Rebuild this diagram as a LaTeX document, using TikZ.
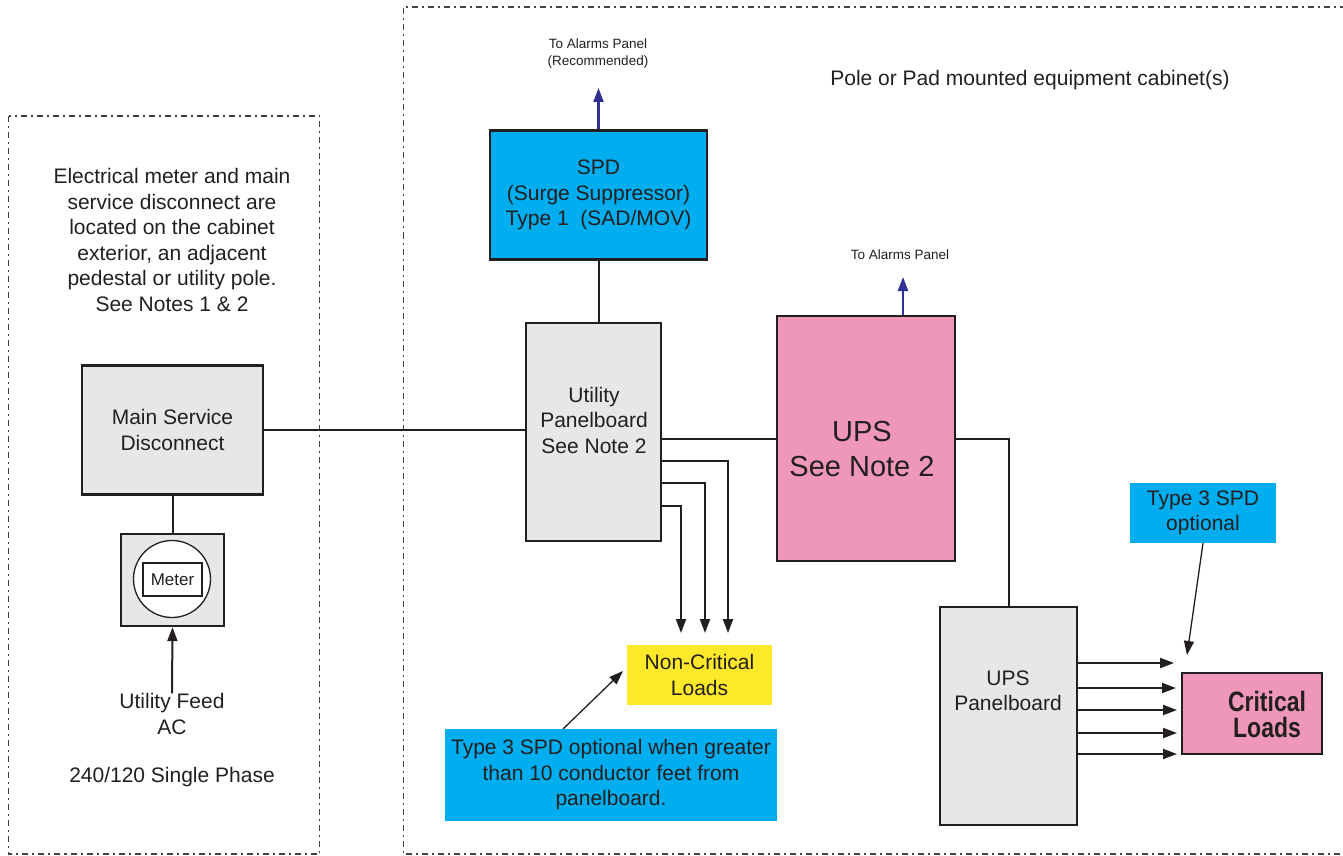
\documentclass[tikz,border=0pt]{standalone}
\usepackage{fontspec}
\setmainfont{Liberation Sans}
\newfontfamily\narrowsans[FakeStretch=0.82]{Liberation Sans}
\usetikzlibrary{arrows.meta,calc}
\definecolor{boxgray}{HTML}{E6E7E8}
\definecolor{spdcyan}{HTML}{00AEEF}
\definecolor{upspink}{HTML}{EE97B9}
\definecolor{loadyellow}{HTML}{FDE829}
\definecolor{alarmblue}{HTML}{2E3192}
\definecolor{ink}{HTML}{231F20}
\begin{document}
\begin{tikzpicture}[x=1pt,y=-1pt,
  txt/.style={font=\fontsize{21}{25.5}\selectfont, text=ink, align=center, inner sep=0pt},
  small/.style={font=\fontsize{13.5}{17}\selectfont, text=ink, align=center, inner sep=0pt},
  box/.style={draw=ink, line width=2.4pt, fill=boxgray, txt},
  tag/.style={txt},
  wire/.style={draw=ink, line width=2pt},
  feedarrow/.style={wire, -{Triangle[length=14pt,width=10pt]}},
  thinarrow/.style={draw=ink, line width=1.3pt, -{Triangle[length=14pt,width=10pt]}},
  bluearrow/.style={draw=alarmblue, line width=2.2pt, -{Triangle[length=14pt,width=10pt]}},
  cabinet/.style={draw=ink!85, line width=1.7pt, dash pattern=on 6pt off 4pt on 2pt off 4pt}
]
\useasboundingbox (0,0) rectangle (1343,856);

% dashed enclosures
\draw[cabinet] (8.5,116) rectangle (319.5,854);
\draw[cabinet] (1346,7) -- (403.5,7) -- (403.5,854) -- (1346,854);

% texts
\node[tag] (leftnote) at (172,240) {Electrical meter and main\\service disconnect are\\located on the cabinet\\exterior, an adjacent\\pedestal or utility pole.\\See Notes 1 \& 2};
\node[tag] (pole) at (1030,80) {Pole or Pad mounted equipment cabinet(s)};

% left side
\node[box, minimum width=181pt, minimum height=129pt] (msd) at (172.5,430) {Main Service\\Disconnect};
\node[box, minimum width=103pt, minimum height=92pt] (meterbox) at (172.5,580) {};
\node[draw=ink, line width=1.3pt, fill=white, circle, minimum size=77pt, inner sep=0pt] (meterring) at (172,579) {};
\node[draw=ink, line width=1.6pt, fill=white, minimum width=59pt, minimum height=33pt, inner sep=0pt,
      font=\fontsize{17}{20}\selectfont, text=ink] (meter) at (172.5,579.5) {Meter};
\node[tag] (feed) at (172,714) {Utility Feed\\AC};
\node[tag] (phase) at (172,777) {240/120 Single Phase};

\draw[wire] (msd.south) -- (meterbox.north);
\draw[feedarrow] (feed.north) -- (meterbox.south);

% SPD
\node[box, fill=spdcyan, minimum width=217pt, minimum height=129pt] (spd) at (598.5,195) {SPD\\(Surge Suppressor)\\Type 1\ \ (SAD/MOV)};
\node[small] (alarm1) at (598,54) {To Alarms Panel\\(Recommended)};
\coordinate (a1tip) at (598.5,88);
\draw[bluearrow] (spd.north) -- (a1tip);

% Utility panelboard
\node[box, minimum width=135pt, minimum height=218pt] (upb) at (593.5,432) {};
\node[tag] (upblabel) at (594,420) {Utility\\Panelboard\\See Note 2};
\draw[wire] (msd.east) -- (msd.east -| upb.west);
\draw[wire] (spd.south) -- (spd.south |- upb.north);

% UPS
\node[box, fill=upspink, minimum width=178pt, minimum height=245pt] (ups) at (866,438.5) {};
\node[txt, font=\fontsize{29}{35}\selectfont] (upslabel) at (862,449) {UPS\\See Note 2};
\node[small] (alarm2) at (900,255) {To Alarms Panel};
\coordinate (a2tip) at (903,277);
\draw[bluearrow] (a2tip |- ups.north) -- (a2tip);
\draw[wire] (ups.west -| upb.east) -- (ups.west);

% Non-critical loads
\node[tag, fill=loadyellow, minimum width=145pt, minimum height=60pt] (ncl) at (699.5,675) {Non-Critical\\Loads};
\coordinate (n1) at (728,633);
\coordinate (n2) at (705,633);
\coordinate (n3) at (681,633);
\draw[feedarrow] ([yshift=-29pt]upb.east) -| (n1);
\draw[feedarrow] ([yshift=-51pt]upb.east) -| (n2);
\draw[feedarrow] ([yshift=-74pt]upb.east) -| (n3);

\node[tag, fill=spdcyan, minimum width=332pt, minimum height=92pt] (t3a) at (611,775) {Type 3 SPD optional when greater\\than 10 conductor feet from\\panelboard.};
\coordinate (t3atip) at (623,671);
\draw[thinarrow] (563,729) -- (t3atip);

% UPS panelboard
\node[box, minimum width=137pt, minimum height=218pt] (uppb) at (1008.5,716) {};
\node[tag] (uppblabel) at (1008,691) {UPS\\Panelboard};
\draw[wire] (ups.east) -| (uppb.north);

% Critical loads
\node[box, fill=upspink, minimum width=140pt, minimum height=81pt] (crit) at (1252,713.5) {};
\node[txt, font=\narrowsans\bfseries\fontsize{28}{26}\selectfont] (critlabel) at (1267,714) {Critical\\Loads};
\coordinate (c1) at (1174,663);
\coordinate (c2) at (1176,688);
\coordinate (c3) at (1177,710);
\coordinate (c4) at (1177,733);
\coordinate (c5) at (1177,754);
\foreach \c in {c1,c2,c3,c4,c5}{
  \draw[feedarrow] (uppb.east |- \c) -- (\c);
}

\node[tag, fill=spdcyan, minimum width=146pt, minimum height=60pt] (t3b) at (1203,513) {Type 3 SPD\\optional};
\coordinate (t3btip) at (1187,655);
\draw[thinarrow] (t3b.south) -- (t3btip);
\end{tikzpicture}
\end{document}
